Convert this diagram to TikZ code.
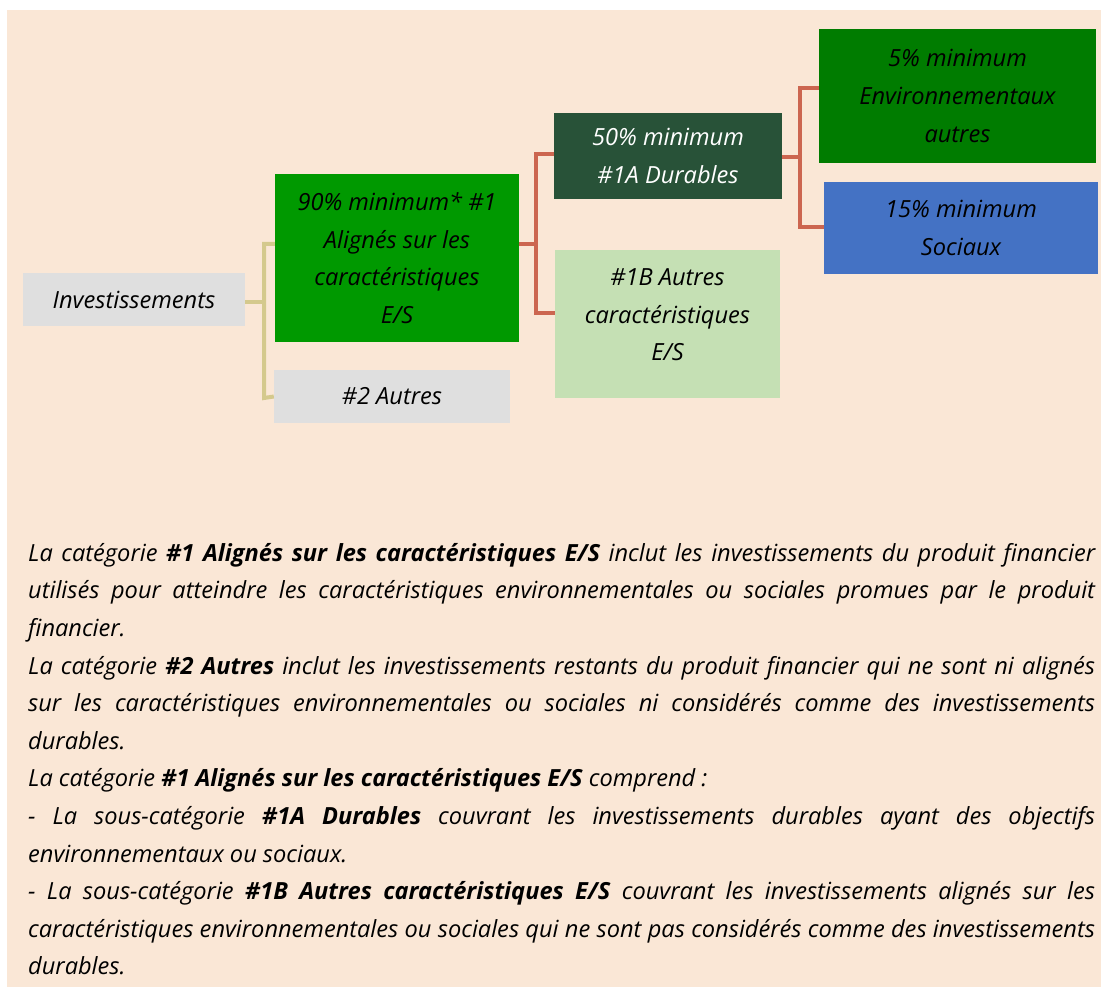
\documentclass[tikz,border=0pt]{standalone}
\usepackage{fontspec}
\setmainfont{Open Sans}
\definecolor{bgpeach}{HTML}{FAE7D6}
\definecolor{boxgray}{HTML}{DFDFDF}
\definecolor{green90}{HTML}{009900}
\definecolor{green5}{HTML}{007C00}
\definecolor{darkgreen}{HTML}{285238}
\definecolor{lightgreen}{HTML}{C5E0B4}
\definecolor{socblue}{HTML}{4472C4}
\definecolor{tanline}{HTML}{D4C98D}
\definecolor{redline}{HTML}{CC6650}
\tikzset{
  box/.style={draw=none, inner sep=0pt, align=center,
    font=\itshape\fontsize{23.6}{37.6}\selectfont},
  tanconn/.style={draw=tanline, line width=4pt, line join=miter},
  redconn/.style={draw=redline, line width=4pt, line join=miter},
  bodytext/.style={inner sep=0pt, text width=1067pt, align=justify,
    font=\itshape\fontsize{23.6}{37.6}\selectfont}
}
\begin{document}
\begin{tikzpicture}[x=1pt,y=-1pt]
\useasboundingbox (0,0) rectangle (1103,987);
\fill[white] (0,0) rectangle (1103,987);
\fill[bgpeach] (7,10) rectangle (1101,987);

% tan connectors
\coordinate (t1) at (264,244);
\coordinate (t2) at (264,398);
% red connectors coordinates
\coordinate (r1) at (536,154);
\coordinate (r2) at (536,313);
\coordinate (s1) at (800,88);
\coordinate (s2) at (800,227);

\node[box, fill=boxgray, minimum width=222pt, minimum height=53pt] (inv) at (134,299.5) {Investissements};
\node[box, fill=green90, minimum width=244pt, minimum height=168pt] (g90) at (397,258)
  {90\% minimum* \#1\\Alignés sur les\\caractéristiques\\E/S};
\node[box, fill=boxgray, minimum width=236pt, minimum height=53pt] (a2) at (392,396.5) {\#2 Autres};
\node[box, fill=darkgreen, text=white, minimum width=228pt, minimum height=86pt] (b50) at (668,156)
  {50\% minimum\\\#1A Durables};
\node[box, fill=lightgreen, minimum width=225pt, minimum height=148pt] (b1B) at (667.5,324) {};
\node[box] (b1Bt) at ([yshift=9pt]b1B.center) {\#1B Autres\\caractéristiques\\E/S};
\node[box, fill=green5, minimum width=277pt, minimum height=134pt] (b5) at (957.5,96)
  {5\% minimum\\Environnementaux\\autres};
\node[box, fill=socblue, minimum width=274pt, minimum height=92pt] (b15) at (961,228)
  {15\% minimum\\Sociaux};

\draw[tanconn] ([yshift=-2pt]inv.east) -- ([yshift=-2pt]inv.east -| t1);
\draw[tanconn] ([yshift=14pt]g90.west) -- (t1) -- (t2) -- (a2.west);

\draw[redconn] ([yshift=14pt]g90.east) -- ([yshift=14pt]g90.east -| r1);
\draw[redconn] ([yshift=2pt]b50.west) -- (r1) -- (r2) -- ([yshift=11pt]b1B.west);

\draw[redconn] ([yshift=-1pt]b50.east) -- ([yshift=-1pt]b50.east -| s1);
\draw[redconn] ([yshift=8pt]b5.west) -- (s1) -- (s2) -- ([yshift=1pt]b15.west);

\node[bodytext, anchor=north west] (body) at (28,543) {%
\tolerance=10000\hbadness=10000\hfuzz=50pt\parindent=0pt
La catégorie \textbf{\#1 Alignés sur les caractéristiques E/S} inclut les investissements du produit financier\linebreak
utilisés pour atteindre les caractéristiques environnementales ou sociales promues par le produit\linebreak
financier.\par
La catégorie \textbf{\#2 Autres} inclut les investissements restants du produit financier qui ne sont ni alignés\linebreak
sur les caractéristiques environnementales ou sociales ni considérés comme des investissements\linebreak
durables.\par
La catégorie \textbf{\#1 Alignés sur les caractéristiques E/S} comprend~:\par
- La sous-catégorie \textbf{\#1A Durables} couvrant les investissements durables ayant des objectifs\linebreak
environnementaux ou sociaux.\par
- La sous-catégorie \textbf{\#1B Autres caractéristiques E/S} couvrant les investissements alignés sur les\linebreak
caractéristiques environnementales ou sociales qui ne sont pas considérés comme des investissements\linebreak
durables.\par};
\end{tikzpicture}
\end{document}
